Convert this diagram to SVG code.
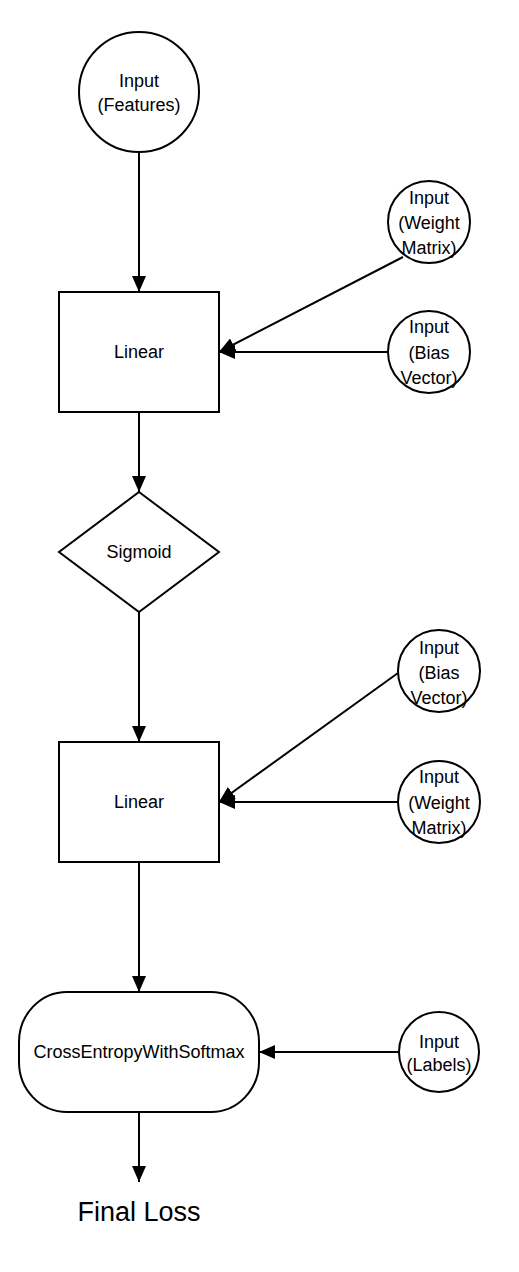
<svg xmlns="http://www.w3.org/2000/svg" width="519" height="1272" viewBox="0 0 519 1272">
<style>
.s{fill:#fff;stroke:#000;stroke-width:2}
.t{font-family:"Liberation Sans","DejaVu Sans",sans-serif;font-size:18px;fill:#000;text-anchor:middle}
.e{fill:none;stroke:#000;stroke-width:2}
</style>
<defs>
<marker id="ah" markerUnits="userSpaceOnUse" viewBox="0 0 16 14" refX="16" refY="7" markerWidth="16" markerHeight="14" orient="auto">
<path d="M0,0 L16,7 L0,14 z" fill="#000"/>
</marker>
</defs>
<rect width="519" height="1272" fill="#fff"/>
<g id="connectors">
<line class="e" x1="139" y1="152" x2="139" y2="292" marker-end="url(#ah)"/>
<line class="e" x1="403" y1="257" x2="219" y2="352" marker-end="url(#ah)"/>
<line class="e" x1="388" y1="352" x2="219" y2="352" marker-end="url(#ah)"/>
<line class="e" x1="139" y1="412" x2="139" y2="492" marker-end="url(#ah)"/>
<line class="e" x1="139" y1="612" x2="139" y2="742" marker-end="url(#ah)"/>
<line class="e" x1="398" y1="673" x2="219" y2="802" marker-end="url(#ah)"/>
<line class="e" x1="398" y1="802" x2="219" y2="802" marker-end="url(#ah)"/>
<line class="e" x1="139" y1="862" x2="139" y2="992" marker-end="url(#ah)"/>
<line class="e" x1="398" y1="1052" x2="259" y2="1052" marker-end="url(#ah)"/>
<line class="e" x1="139" y1="1112" x2="139" y2="1182" marker-end="url(#ah)"/>
</g>
<g id="input_features">
<circle class="s" cx="139" cy="92" r="60"/>
<text class="t" x="139" y="87">Input</text>
<text class="t" x="139" y="111">(Features)</text>
</g>
<g id="input_weight1">
<circle class="s" cx="429" cy="222" r="41"/>
<text class="t" x="429" y="204">Input</text>
<text class="t" x="429" y="229">(Weight</text>
<text class="t" x="429" y="254">Matrix)</text>
</g>
<g id="input_bias1">
<circle class="s" cx="429" cy="352" r="41"/>
<text class="t" x="429" y="333">Input</text>
<text class="t" x="429" y="359">(Bias</text>
<text class="t" x="429" y="384">Vector)</text>
</g>
<g id="linear1">
<rect class="s" x="59" y="292" width="160" height="120"/>
<text class="t" x="139" y="358">Linear</text>
</g>
<g id="sigmoid">
<polygon class="s" points="139,492 219,552 139,612 59,552"/>
<text class="t" x="139" y="558">Sigmoid</text>
</g>
<g id="input_bias2">
<circle class="s" cx="439" cy="671" r="41"/>
<text class="t" x="439" y="654">Input</text>
<text class="t" x="439" y="679">(Bias</text>
<text class="t" x="439" y="704">Vector)</text>
</g>
<g id="input_weight2">
<circle class="s" cx="439" cy="802" r="41"/>
<text class="t" x="439" y="783">Input</text>
<text class="t" x="439" y="809">(Weight</text>
<text class="t" x="439" y="834">Matrix)</text>
</g>
<g id="linear2">
<rect class="s" x="59" y="742" width="160" height="120"/>
<text class="t" x="139" y="808">Linear</text>
</g>
<g id="cross_entropy">
<rect class="s" x="19" y="992" width="240" height="120" rx="48" ry="50"/>
<text class="t" x="139" y="1058">CrossEntropyWithSoftmax</text>
</g>
<g id="input_labels">
<circle class="s" cx="439" cy="1052" r="40"/>
<text class="t" x="439" y="1048">Input</text>
<text class="t" x="439" y="1071">(Labels)</text>
</g>
<g id="final_loss">
<text class="t" x="139" y="1221" style="font-size:27px">Final Loss</text>
</g>
</svg>
